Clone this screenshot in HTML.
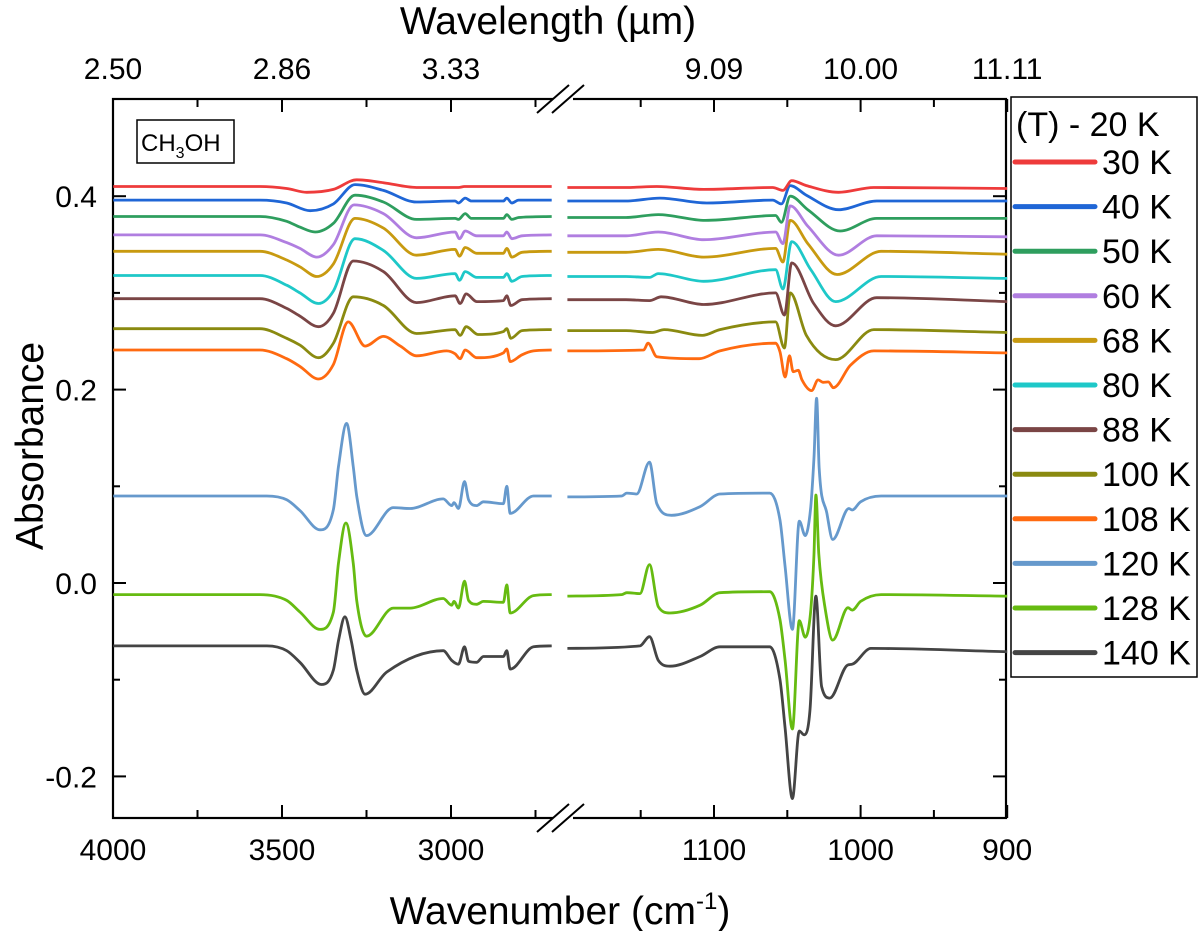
<!DOCTYPE html>
<html><head><meta charset="utf-8"><style>
html,body{margin:0;padding:0;background:#fff;}
svg text{font-family:"Liberation Sans",Arial,sans-serif;fill:#000;}
</style></head><body>
<svg id="chart" width="1200" height="931" viewBox="0 0 1200 931" xmlns="http://www.w3.org/2000/svg">
<g id="g-axes"></g>
<g id="g-series"></g>
<g id="g-legend"></g>
</svg>
<script>
// ---- data ----
const labels = ["30 K","40 K","50 K","60 K","68 K","80 K","88 K","100 K","108 K","120 K","128 K","140 K"];
const colors = ["#ee3b3b","#1f66d6","#2e9e5e","#b07ee0","#c89a10","#1ec8c8","#7a4545","#8a8a10","#ff6a10","#6699cc","#66bb11","#444444"];
const xTicksLeft = [4000,3750,3500,3250,3000,2750];
const xTicksRight = [1150,1100,1050,1000,950,900];
const xLabelsBottom = ["4000","3500","3000","1100","1000","900"];
const xLabelValues = [4000,3500,3000,1100,1000,900];
const topLabels = ["2.50","2.86","3.33","9.09","10.00","11.11"];
const yTicks = [-0.2,-0.1,0,0.1,0.2,0.3,0.4];
const yLabelValues = [-0.2,0,0.2,0.4];

const left30 = [[3999,.410],[3565,.410],[3486,.408],[3427,.404],[3348,.407],[3279,.417],[3200,.414],[3102,.409],[2978,.409],[2960,.410],[2702,.410]];
const left40 = [[3999,.396],[3565,.396],[3486,.393],[3417,.385],[3348,.392],[3284,.412],[3200,.406],[3102,.394],[2988,.395],[2978,.393],[2958,.398],[2940,.395],[2845,.395],[2835,.398],[2820,.393],[2800,.396],[2702,.396]];
const left50 = [[3999,.379],[3565,.379],[3486,.374],[3447,.368],[3402,.363],[3348,.372],[3284,.401],[3200,.394],[3102,.376],[2988,.377],[2978,.376],[2958,.382],[2940,.377],[2845,.377],[2835,.381],[2820,.376],[2800,.378],[2702,.379]];
const left60 = [[3999,.360],[3565,.360],[3486,.352],[3447,.346],[3397,.337],[3348,.350],[3287,.391],[3200,.382],[3102,.357],[2988,.363],[2975,.356],[2958,.364],[2924,.359],[2845,.359],[2835,.363],[2820,.356],[2790,.359],[2702,.360]];
const left68 = [[3999,.343],[3565,.343],[3486,.334],[3447,.327],[3397,.317],[3348,.330],[3284,.377],[3200,.367],[3102,.339],[2988,.345],[2975,.338],[2958,.347],[2924,.341],[2845,.341],[2835,.346],[2820,.337],[2790,.342],[2702,.343]];
const left80 = [[3999,.318],[3565,.318],[3486,.308],[3447,.300],[3392,.289],[3348,.302],[3284,.356],[3200,.344],[3102,.315],[2988,.320],[2975,.313],[2958,.322],[2924,.316],[2845,.316],[2835,.320],[2820,.312],[2790,.317],[2702,.318]];
const left88 = [[3999,.294],[3565,.294],[3486,.284],[3447,.276],[3392,.265],[3348,.279],[3289,.333],[3200,.322],[3102,.290],[2988,.297],[2973,.289],[2955,.299],[2924,.291],[2845,.292],[2835,.297],[2823,.287],[2790,.293],[2702,.294]];
const left100 = [[3999,.263],[3565,.263],[3486,.253],[3447,.246],[3392,.233],[3348,.248],[3289,.296],[3200,.287],[3102,.258],[2988,.262],[2973,.256],[2955,.265],[2920,.257],[2845,.260],[2835,.263],[2823,.253],[2790,.261],[2702,.262]];
const left108 = [[3999,.241],[3565,.241],[3486,.232],[3447,.224],[3392,.211],[3348,.226],[3304,.270],[3254,.245],[3200,.255],[3150,.245],[3102,.235],[3013,.240],[2988,.237],[2973,.232],[2958,.241],[2924,.233],[2845,.238],[2835,.242],[2825,.229],[2790,.236],[2756,.240],[2702,.241]];
const left120 = [[3999,.090],[3545,.090],[3486,.086],[3447,.075],[3388,.055],[3348,.076],[3333,.120],[3309,.165],[3289,.120],[3279,.090],[3250,.049],[3171,.078],[3121,.077],[3023,.087],[2998,.080],[2991,.083],[2978,.077],[2960,.105],[2948,.086],[2924,.080],[2904,.084],[2845,.082],[2835,.100],[2825,.072],[2756,.090],[2702,.090]];
const left128 = [[3999,-.012],[3565,-.012],[3486,-.018],[3447,-.030],[3388,-.048],[3348,-.030],[3333,.020],[3311,.062],[3289,.020],[3279,-.018],[3250,-.055],[3171,-.026],[3121,-.026],[3023,-.016],[2998,-.023],[2991,-.019],[2978,-.026],[2960,.002],[2948,-.018],[2924,-.022],[2904,-.019],[2845,-.020],[2835,-.002],[2825,-.031],[2756,-.013],[2702,-.012]];
const left140 = [[3999,-.065],[3545,-.065],[3486,-.070],[3447,-.082],[3383,-.105],[3348,-.090],[3333,-.060],[3314,-.035],[3295,-.060],[3279,-.090],[3254,-.115],[3190,-.092],[3023,-.070],[2998,-.080],[2978,-.084],[2960,-.066],[2948,-.081],[2924,-.082],[2904,-.076],[2845,-.076],[2835,-.070],[2825,-.089],[2756,-.066],[2702,-.065]];

const right30 = [[1200,.409],[1160,.409],[1139,.410],[1107,.407],[1060,.409],[1053,.406],[1047,.416],[1037,.411],[1015,.404],[991,.409],[900,.408]];
const right40 = [[1200,.395],[1160,.395],[1137,.398],[1105,.393],[1060,.396],[1054,.392],[1048,.411],[1037,.401],[1015,.386],[989,.395],[900,.395]];
const right50 = [[1200,.378],[1160,.378],[1138,.381],[1106,.375],[1058,.380],[1054,.373],[1048,.400],[1036,.386],[1014,.364],[989,.377],[900,.377]];
const right60 = [[1200,.359],[1160,.359],[1138,.363],[1107,.355],[1058,.363],[1053,.351],[1048,.390],[1036,.369],[1015,.339],[989,.359],[900,.358]];
const right68 = [[1200,.342],[1160,.342],[1138,.345],[1107,.337],[1058,.346],[1053,.332],[1048,.375],[1036,.351],[1016,.319],[986,.343],[900,.340]];
const right80 = [[1200,.317],[1160,.317],[1144,.316],[1138,.320],[1107,.312],[1058,.324],[1053,.304],[1047,.353],[1034,.324],[1017,.291],[986,.317],[900,.315]];
const right88 = [[1200,.293],[1160,.293],[1144,.292],[1136,.296],[1107,.288],[1058,.300],[1052,.277],[1047,.331],[1032,.289],[1017,.266],[989,.295],[900,.291]];
const right100 = [[1200,.261],[1160,.261],[1142,.259],[1134,.262],[1108,.256],[1096,.262],[1058,.270],[1052,.243],[1048,.300],[1037,.256],[1017,.231],[991,.262],[900,.259]];
const right108 = [[1200,.240],[1148,.241],[1145,.248],[1139,.234],[1110,.232],[1096,.240],[1058,.248],[1055,.239],[1051.5,.213],[1048.5,.235],[1046,.2185],[1042.5,.220],[1040,.210],[1033.4,.199],[1029,.210],[1025.5,.2075],[1022,.208],[1018.6,.202],[1007,.225],[991,.240],[900,.238]];
const right120 = [[1200,.089],[1163,.090],[1159.5,.093],[1152.7,.092],[1144,.125],[1139,.082],[1129,.070],[1109.5,.079],[1096,.092],[1062,.093],[1055,.065],[1051.5,.017],[1046.5,-.048],[1041.8,.064],[1037.8,.049],[1034,.079],[1031.8,.130],[1030,.191],[1028.3,.120],[1023,.072],[1019,.045],[1008,.077],[1005.7,.0755],[1000,.084],[986,.090],[900,.090]];
const right128 = [[1200,-.0135],[1163,-.012],[1159.5,-.010],[1150.5,-.011],[1144,.019],[1138,-.0245],[1130,-.031],[1109.5,-.023],[1096,-.010],[1062,-.009],[1055,-.038],[1051.5,-.080],[1046.5,-.151],[1041.8,-.039],[1037.8,-.056],[1034,-.028],[1031.8,.030],[1030.5,.091],[1028.5,.030],[1024,-.028],[1019,-.059],[1008.6,-.0255],[1005.7,-.028],[1000,-.019],[986,-.012],[900,-.0135]];
const right140 = [[1200,-.0676],[1150.5,-.065],[1144,-.0555],[1138,-.080],[1130,-.086],[1109.5,-.076],[1096,-.066],[1062,-.066],[1055,-.100],[1051.5,-.150],[1046.5,-.223],[1041.8,-.153],[1038.5,-.157],[1034.5,-.131],[1030.5,-.0135],[1026.6,-.107],[1021,-.119],[1009,-.085],[1005.7,-.084],[993,-.0676],[900,-.071]];

const leftSeries = [left30,left40,left50,left60,left68,left80,left88,left100,left108,left120,left128,left140];
const rightSeries = [right30,right40,right50,right60,right68,right80,right88,right100,right108,right120,right128,right140];

// ---- layout / scales ----
const PL=113, PR=1006, PT=99, PB=818;
function xLeft(w){return 113+(4000-w)*0.338;}
function xRight(w){return 714+(1100-w)*1.466;}
function xAny(w){return w>1500?xLeft(w):xRight(w);}
function yS(v){return 583-v*967;}
const NS="http://www.w3.org/2000/svg";
function mk(tag,attrs,parent){const e=document.createElementNS(NS,tag);for(const k in attrs)e.setAttribute(k,attrs[k]);parent.appendChild(e);return e;}

function monoPath(pts){
  const n=pts.length;const d=[],m=new Array(n);
  for(let i=0;i<n-1;i++)d.push((pts[i+1][1]-pts[i][1])/(pts[i+1][0]-pts[i][0]));
  m[0]=d[0];m[n-1]=d[n-2];
  for(let i=1;i<n-1;i++){m[i]=(d[i-1]*d[i]<=0)?0:(d[i-1]+d[i])/2;}
  for(let i=0;i<n-1;i++){if(d[i]===0){m[i]=0;m[i+1]=0;continue;}const a=m[i]/d[i],b=m[i+1]/d[i],s=a*a+b*b;if(s>9){const t=3/Math.sqrt(s);m[i]=t*a*d[i];m[i+1]=t*b*d[i];}}
  let s="M"+pts[0][0].toFixed(1)+","+pts[0][1].toFixed(1);
  for(let i=0;i<n-1;i++){const h=pts[i+1][0]-pts[i][0];
    s+=" C"+(pts[i][0]+h/3).toFixed(1)+","+(pts[i][1]+m[i]*h/3).toFixed(1)+" "+(pts[i+1][0]-h/3).toFixed(1)+","+(pts[i+1][1]-m[i+1]*h/3).toFixed(1)+" "+pts[i+1][0].toFixed(1)+","+pts[i+1][1].toFixed(1);}
  return s;
}

const ax=document.getElementById('g-axes');
const sg=document.getElementById('g-series');
const lg=document.getElementById('g-legend');

// series
for(let i=leftSeries.length-1;i>=0;i--){
  const p1=mk('path',{d:monoPath(leftSeries[i].map(p=>[xLeft(p[0]),yS(p[1])])),fill:'none',stroke:colors[i],'stroke-width':2.8,'stroke-linejoin':'round'},sg);
  
  
  const p2=mk('path',{d:monoPath(rightSeries[i].map(p=>[xRight(p[0]),yS(p[1])])),fill:'none',stroke:colors[i],'stroke-width':2.8,'stroke-linejoin':'round'},sg);
  
  
}

// frame
const fr=mk('rect',{x:PL,y:PT,width:PR-PL,height:PB-PT,fill:'none',stroke:'#000','stroke-width':2.2},ax);



// x ticks
const allX=xTicksLeft.map(xLeft).concat(xTicksRight.map(xRight));
const allW=xTicksLeft.concat(xTicksRight);
allW.forEach((w,k)=>{
  const x=allX[k];const major=xLabelValues.indexOf(w)>=0;const L=major?13:8;
  const t1=mk('line',{x1:x,x2:x,y1:PB,y2:PB-L,stroke:'#000','stroke-width':2},ax);
  
  
  const t2=mk('line',{x1:x,x2:x,y1:PT,y2:PT+L,stroke:'#000','stroke-width':2},ax);
  
  
});
xLabelValues.forEach((w,k)=>{
  const t=mk('text',{x:xAny(w),y:860,'font-size':30,'text-anchor':'middle'},ax);t.textContent=xLabelsBottom[k];
  
  
  const u=mk('text',{x:xAny(w),y:79,'font-size':30,'text-anchor':'middle'},ax);u.textContent=topLabels[k];
  
  
});
// y ticks
yTicks.forEach(v=>{
  const y=yS(v);const major=yLabelValues.some(z=>Math.abs(z-v)<1e-9);const L=major?13:7;
  const a=mk('line',{x1:PL,x2:PL+L,y1:y,y2:y,stroke:'#000','stroke-width':2},ax);
  
  
  const b=mk('line',{x1:PR,x2:PR-L,y1:y,y2:y,stroke:'#000','stroke-width':2},ax);
  
  
  if(major){const t=mk('text',{x:97,y:y+11,'font-size':30,'text-anchor':'end'},ax);t.textContent=(v===0?"0.0":v.toFixed(1));
    
    }
});
// break marks
[[PB],[PT]].forEach(([yy])=>{
  const w=mk('rect',{x:553,y:yy-3,width:20,height:6,fill:'#fff'},ax);
  
  
  [[537,569],[552,584]].forEach(([a,b])=>{
    const l=mk('line',{x1:a,y1:yy+14,x2:b,y2:yy-14,stroke:'#000','stroke-width':2},ax);
    
    
  });
});
</script>
<script>
(function(){
const ax=document.getElementById('g-axes');
const lg=document.getElementById('g-legend');
const NS="http://www.w3.org/2000/svg";
function mk(tag,attrs,parent){const e=document.createElementNS(NS,tag);for(const k in attrs)e.setAttribute(k,attrs[k]);parent.appendChild(e);return e;}
// titles
let t=mk('text',{x:548,y:34,'font-size':39,'text-anchor':'middle'},ax);t.textContent="Wavelength (µm)";


t=mk('text',{x:0,y:0,'font-size':39,'text-anchor':'middle',transform:'translate(43,446) rotate(-90)'},ax);t.textContent="Absorbance";


t=mk('text',{x:560,y:924,'font-size':39,'text-anchor':'middle'},ax);
t.innerHTML='Wavenumber (cm<tspan dy="-15" font-size="24">-1</tspan><tspan dy="15">)</tspan>';


// CH3OH box
const bx=mk('rect',{x:137,y:120,width:97,height:43,fill:'#fff',stroke:'#000','stroke-width':1.5},ax);


t=mk('text',{x:141,y:151,'font-size':24},ax);
t.innerHTML='CH<tspan dy="7" font-size="16">3</tspan><tspan dy="-7">OH</tspan>';


// legend
const lb=mk('rect',{x:1011,y:97,width:186,height:580,fill:'#fff',stroke:'#000','stroke-width':1.5},lg);


t=mk('text',{x:1016,y:136,'font-size':34},lg);t.textContent="(T) - 20 K";


labels.forEach((lab,i)=>{
  const y=162+i*44.6;
  const g=mk('g',{},lg);
  
  
  mk('line',{x1:1015,x2:1095,y1:y,y2:y,stroke:colors[i],'stroke-width':5,'stroke-linecap':'round'},g);
  const tx=mk('text',{x:1102,y:y+12,'font-size':34},g);tx.textContent=lab;
});
})();
</script>
</body></html>
